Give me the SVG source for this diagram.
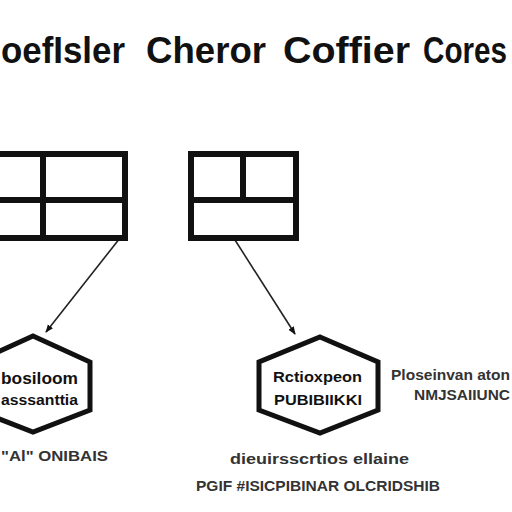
<svg xmlns="http://www.w3.org/2000/svg" width="512" height="512" viewBox="0 0 512 512">
<defs>
<marker id="ah" viewBox="0 0 10 10" refX="9" refY="5" markerWidth="8" markerHeight="8" orient="auto" markerUnits="userSpaceOnUse"><path d="M0,1 L10,5 L0,9 z" fill="#111"/></marker>
</defs>
<style>
.t{font-family:"Liberation Sans",Arial,sans-serif;fill:#111}
.title{font-size:37px;font-weight:bold}
.g{fill:none;stroke:#111;stroke-width:6}
.h{fill:#fff;stroke:#111;stroke-width:5;stroke-linejoin:miter}
.c{fill:none;stroke:#222;stroke-width:1.6}
.l{font-size:17px;font-weight:bold}
.s{font-size:14px;font-weight:bold}
.m{fill:#333}
</style>
<rect width="512" height="512" fill="#fff"/>
<g id="title">
<text class="t title" x="1" y="63" textLength="124" lengthAdjust="spacingAndGlyphs">oefIsler</text>
<text class="t title" x="146" y="63" textLength="120" lengthAdjust="spacingAndGlyphs">Cheror</text>
<text class="t title" x="283" y="63" textLength="127" lengthAdjust="spacingAndGlyphs">Coffier</text>
<text class="t" x="423" y="63" style="font-size:30px;font-weight:bold" transform="translate(0,-14.49) scale(1,1.23)" textLength="84" lengthAdjust="spacingAndGlyphs">Cores</text>
</g>
<g id="connectors">
<line class="c" x1="120" y1="238" x2="46" y2="332" marker-end="url(#ah)"/>
<line class="c" x1="235" y1="240" x2="295" y2="334" marker-end="url(#ah)"/>
</g>
<g id="grid-left">
<rect class="g" x="-10" y="154" width="135" height="84"/>
<line class="g" x1="43" y1="154" x2="43" y2="238"/>
<line class="g" x1="-10" y1="200" x2="125" y2="200"/>
</g>
<g id="grid-right">
<rect class="g" x="191" y="154" width="105" height="84"/>
<line class="g" x1="243" y1="154" x2="243" y2="200"/>
<line class="g" x1="191" y1="200" x2="296" y2="200"/>
</g>
<g id="hex-left">
<polygon class="h" points="33,336 90,362 90,410 33,432 -24,410 -24,362"/>
<text class="t l" x="1" y="384" textLength="77" lengthAdjust="spacingAndGlyphs">bosiloom</text>
<text class="t s" x="1" y="405" textLength="77" lengthAdjust="spacingAndGlyphs">asssanttia</text>
</g>
<g id="label-left">
<text class="t s m" x="1" y="461" textLength="107" lengthAdjust="spacingAndGlyphs">"Al" ONIBAIS</text>
</g>
<g id="hex-right">
<polygon class="h" points="320,337 378,362 378,410 320,433 259,410 259,362"/>
<text class="t s" x="273" y="382" textLength="89" lengthAdjust="spacingAndGlyphs">Rctioxpeon</text>
<text class="t s" x="274" y="405" textLength="88" lengthAdjust="spacingAndGlyphs">PUBIBIIKKI</text>
</g>
<g id="label-right">
<text class="t s m" x="391" y="380" textLength="119" lengthAdjust="spacingAndGlyphs">Ploseinvan aton</text>
<text class="t s m" x="414" y="400" textLength="96" lengthAdjust="spacingAndGlyphs">NMJSAIIUNC</text>
</g>
<g id="label-bottom">
<text class="t s m" x="230" y="464" textLength="179" lengthAdjust="spacingAndGlyphs">dieuirsscrtios ellaine</text>
<text class="t s m" x="196" y="491" textLength="244" lengthAdjust="spacingAndGlyphs">PGIF #ISICPIBINAR OLCRIDSHIB</text>
</g>
</svg>
